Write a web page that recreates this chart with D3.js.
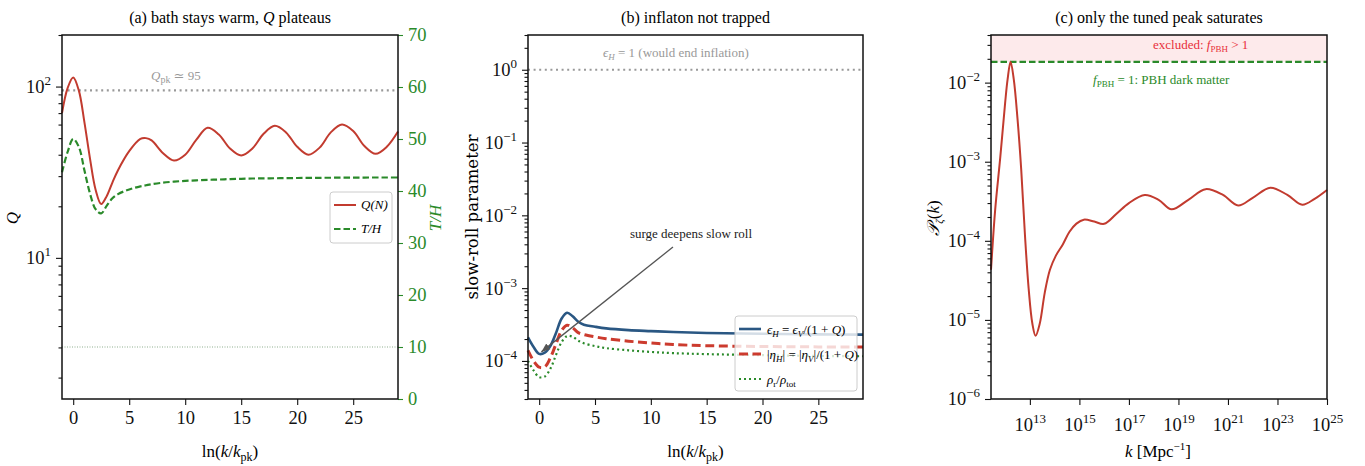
<!DOCTYPE html>
<html>
<head>
<meta charset="utf-8">
<script src="https://cdn.jsdelivr.net/npm/d3@7"></script>
<style>
  body { margin: 0; background: #fff; }
  svg text { font-family: "Liberation Serif", "DejaVu Serif", serif; }
</style>
</head>
<body>
<svg id="fig" width="1365" height="466"></svg>
<script>
// ---- data ----
// panel (a): Q(N) and T/H against ln(k/k_pk)
var aN   = [-1, -0.5, 0, 0.5, 1, 1.5, 2, 2.5, 3, 3.5, 4, 5, 6, 6.5, 7, 8, 9, 10, 11, 12, 13, 14, 15, 16, 17, 18, 19, 20, 21, 22, 23, 24, 25, 26, 27, 28, 29];
var aQ   = [70, 98, 113, 95, 62, 38, 25, 20.6, 23, 27.5, 32.5, 42, 49.5, 50, 48.5, 41, 37, 40, 49, 57.5, 52.5, 43.5, 39.6, 43.5, 53, 59, 54, 44.5, 40, 44, 54, 60, 55, 45, 40.5, 44.5, 54.6];
var aTH  = [43.6, 47.5, 50, 48.5, 44, 39.5, 36.5, 35.7, 37.2, 38.6, 39.4, 40.3, 40.9, 41.1, 41.3, 41.6, 41.8, 41.95, 42.05, 42.15, 42.2, 42.3, 42.35, 42.4, 42.42, 42.45, 42.48, 42.5, 42.52, 42.54, 42.55, 42.57, 42.58, 42.59, 42.6, 42.6, 42.6];
var Qpk = 95, THref = 10;
var aTicksX = [0, 5, 10, 15, 20, 25];
var aTicksR = [0, 10, 20, 30, 40, 50, 60, 70];

// panel (b): slow-roll parameters
var bN   = [-1, -0.5, 0, 0.5, 1, 1.5, 2, 2.5, 3, 3.5, 4, 5, 6, 8, 10, 12, 15, 20, 25, 29];
var bEps = [2.1e-4, 1.55e-4, 1.25e-4, 1.3e-4, 1.6e-4, 2.4e-4, 3.8e-4, 4.6e-4, 4.1e-4, 3.45e-4, 3.15e-4, 2.95e-4, 2.8e-4, 2.65e-4, 2.57e-4, 2.5e-4, 2.42e-4, 2.36e-4, 2.32e-4, 2.3e-4];
var bEta = [1.4e-4, 1.0e-4, 8.2e-5, 8.3e-5, 1.1e-4, 1.7e-4, 2.6e-4, 3.1e-4, 2.85e-4, 2.45e-4, 2.3e-4, 2.14e-4, 2.02e-4, 1.87e-4, 1.76e-4, 1.68e-4, 1.62e-4, 1.58e-4, 1.56e-4, 1.56e-4];
var bRho = [1.0e-4, 7.4e-5, 6.0e-5, 6.1e-5, 7.8e-5, 1.2e-4, 1.8e-4, 2.2e-4, 2.15e-4, 1.9e-4, 1.75e-4, 1.6e-4, 1.5e-4, 1.4e-4, 1.33e-4, 1.28e-4, 1.24e-4, 1.2e-4, 1.17e-4, 1.16e-4];
var bExp = [0, -1, -2, -3, -4];
var annTarget = [0.2, 1.25e-4];

// panel (c): P_zeta(k), k in Mpc^-1 (log10 k)
var cLogK = [11.43, 11.6, 11.8, 12.0, 12.1, 12.22, 12.35, 12.5, 12.65, 12.8, 12.95, 13.1, 13.23, 13.4, 13.6, 13.81, 14.05, 14.33, 14.6, 14.88, 15.18, 15.6, 16.0, 16.5, 17.0, 17.64, 18.2, 18.72, 19.4, 20.1, 20.8, 21.41, 22.0, 22.71, 23.4, 24.0, 24.5, 25.0];
var cP    = [4.3e-5, 2.5e-4, 1.1e-3, 5.5e-3, 1.1e-2, 1.83e-2, 1.1e-2, 3.5e-3, 8e-4, 1.2e-4, 2.5e-5, 9e-6, 6.3e-6, 9e-6, 2.2e-5, 4.3e-5, 6.5e-5, 9e-5, 1.3e-4, 1.65e-4, 1.85e-4, 1.75e-4, 1.64e-4, 2.2e-4, 3.0e-4, 3.8e-4, 3.3e-4, 2.5e-4, 3.3e-4, 4.5e-4, 3.8e-4, 2.8e-4, 3.5e-4, 4.7e-4, 3.8e-4, 2.86e-4, 3.4e-4, 4.4e-4];
var fPBH1 = 1.83e-2;
var cExpY = [-6, -5, -4, -3, -2];
var cExpX = [13, 15, 17, 19, 21, 23, 25];

var red = "#c23b2f", green = "#2a8a2a", blue = "#2a5783", grey = "#999";

var svg = d3.select("#fig");

function box(p) {
    return svg.append("rect").attr("x", p.x0).attr("y", p.y0)
        .attr("width", p.x1 - p.x0).attr("height", p.y1 - p.y0)
        .attr("fill", "none").attr("stroke", "#111").attr("stroke-width", 1.5);
}

function pow10(sel, e) {
    sel.text(null);
    sel.append("tspan").text("10");
    sel.append("tspan").attr("dy", -8).attr("font-size", 13).text(String(e).replace("-", "\u2212"));
}

function minorLog(lo, hi) {
    var out = [];
    for (var e = Math.floor(Math.log10(lo)); e <= Math.ceil(Math.log10(hi)); e++)
        for (var m = 2; m <= 9; m++) {
            var v = m * Math.pow(10, e);
            if (v >= lo && v <= hi) out.push(v);
        }
    return out;
}

function styleAxis(g, col) {
    g.select(".domain").remove();
    g.selectAll("line").attr("stroke", col || "#111").attr("stroke-width", 1.1);
    g.selectAll("text").attr("font-size", 18.5).attr("fill", col || "#111");
}

// ---------------- panel (a) ----------------
var A = {x0: 62, x1: 398, y0: 35, y1: 399};
var ax = d3.scaleLinear().domain([-1, 29]).range([A.x0, A.x1]);
var ay = d3.scaleLog().domain([1.5, 200]).range([A.y1, A.y0]);
var ay2 = d3.scaleLinear().domain([0, 70]).range([A.y1, A.y0]);

svg.append("line").attr("x1", A.x0).attr("x2", A.x1).attr("y1", ay(Qpk)).attr("y2", ay(Qpk))
    .attr("stroke", grey).attr("stroke-width", 2.2).attr("stroke-dasharray", "2,3.6");
svg.append("line").attr("x1", A.x0).attr("x2", A.x1).attr("y1", ay2(THref)).attr("y2", ay2(THref))
    .attr("stroke", "#8fae8f").attr("stroke-width", 1).attr("stroke-dasharray", "1,1.5");
svg.append("text").attr("x", 151).attr("y", 80).attr("font-size", 13).attr("fill", grey)
    .html('<tspan font-style="italic">Q</tspan><tspan font-size="10" dy="3">pk</tspan><tspan dy="-3"> \u2243 95</tspan>');

var aData = aN.map(function(n, i) { return {n: n, q: aQ[i], th: aTH[i]}; });
svg.append("path").attr("d", d3.line().curve(d3.curveCatmullRom)
        .x(function(d) { return ax(d.n); }).y(function(d) { return ay(d.q); })(aData))
    .attr("fill", "none").attr("stroke", red).attr("stroke-width", 2);
svg.append("path").attr("d", d3.line().curve(d3.curveCatmullRom)
        .x(function(d) { return ax(d.n); }).y(function(d) { return ay2(d.th); })(aData))
    .attr("fill", "none").attr("stroke", green).attr("stroke-width", 2.2).attr("stroke-dasharray", "6.5,3");

var g = svg.append("g").attr("transform", "translate(0," + A.y1 + ")")
    .call(d3.axisBottom(ax).tickValues(aTicksX).tickSize(6).tickPadding(6));
styleAxis(g);
g = svg.append("g").attr("transform", "translate(" + A.x0 + ",0)")
    .call(d3.axisLeft(ay).tickValues([10, 100]).tickSize(6).tickPadding(5));
styleAxis(g);
g.selectAll(".tick text").each(function(d) { pow10(d3.select(this), Math.round(Math.log10(d))); });
g = svg.append("g").attr("transform", "translate(" + A.x0 + ",0)")
    .call(d3.axisLeft(ay).tickValues(minorLog(1.5, 200)).tickSize(3.5).tickFormat(""));
styleAxis(g);
g = svg.append("g").attr("transform", "translate(" + A.x1 + ",0)")
    .call(d3.axisRight(ay2).tickValues(aTicksR).tickSize(5).tickPadding(5));
styleAxis(g, green);
box(A);

// legend (a)
var la = svg.append("g").attr("transform", "translate(330,192)");
la.append("rect").attr("width", 62).attr("height", 51).attr("rx", 3)
    .attr("fill", "#fff").attr("fill-opacity", 0.8).attr("stroke", "#ccc");
la.append("line").attr("x1", 4).attr("x2", 26).attr("y1", 13).attr("y2", 13).attr("stroke", red).attr("stroke-width", 2);
la.append("line").attr("x1", 4).attr("x2", 26).attr("y1", 37).attr("y2", 37).attr("stroke", green).attr("stroke-width", 2.2).attr("stroke-dasharray", "6.5,3");
la.append("text").attr("x", 31).attr("y", 17).attr("font-size", 13).attr("font-style", "italic").text("Q(N)");
la.append("text").attr("x", 31).attr("y", 41).attr("font-size", 13).attr("font-style", "italic").text("T/H");

svg.append("text").attr("x", (A.x0 + A.x1) / 2).attr("y", 23).attr("text-anchor", "middle").attr("font-size", 16)
    .html('(a) bath stays warm, <tspan font-style="italic">Q</tspan> plateaus');
svg.append("text").attr("x", (A.x0 + A.x1) / 2).attr("y", 457).attr("text-anchor", "middle").attr("font-size", 17)
    .html('ln(<tspan font-style="italic">k</tspan>/<tspan font-style="italic">k</tspan><tspan font-size="12" dy="4">pk</tspan><tspan dy="-4">)</tspan>');
svg.append("text").attr("transform", "translate(18,218) rotate(-90)").attr("text-anchor", "middle")
    .attr("font-size", 17).attr("font-style", "italic").text("Q");
svg.append("text").attr("transform", "translate(441,218) rotate(-90)").attr("text-anchor", "middle")
    .attr("font-size", 17).attr("font-style", "italic").attr("fill", green).text("T/H");

// ---------------- panel (b) ----------------
var B = {x0: 528, x1: 863, y0: 35, y1: 399};
var bx = d3.scaleLinear().domain([-1, 29]).range([B.x0, B.x1]);
var by = d3.scaleLog().domain([3e-5, 3]).range([B.y1, B.y0]);

svg.append("line").attr("x1", B.x0).attr("x2", B.x1).attr("y1", by(1)).attr("y2", by(1))
    .attr("stroke", grey).attr("stroke-width", 2.2).attr("stroke-dasharray", "2,3.6");
svg.append("text").attr("x", 603).attr("y", 57).attr("font-size", 13).attr("fill", grey)
    .html('<tspan font-style="italic">\u03f5</tspan><tspan font-size="9" font-style="italic" dy="3">H</tspan><tspan dy="-3"> = 1 (would end inflation)</tspan>');

var bSeries = [
    {v: bEps, col: blue, w: 2.6, dash: null},
    {v: bEta, col: "#cc3b2e", w: 3, dash: "9,4.5"},
    {v: bRho, col: green, w: 2.2, dash: "2,3"}
];
bSeries.forEach(function(s) {
    svg.append("path").attr("d", d3.line().curve(d3.curveCatmullRom)
            .x(function(d, i) { return bx(bN[i]); }).y(function(d) { return by(d); })(s.v))
        .attr("fill", "none").attr("stroke", s.col).attr("stroke-width", s.w)
        .attr("stroke-dasharray", s.dash);
});

g = svg.append("g").attr("transform", "translate(0," + B.y1 + ")")
    .call(d3.axisBottom(bx).tickValues(aTicksX).tickSize(6).tickPadding(6));
styleAxis(g);
g = svg.append("g").attr("transform", "translate(" + B.x0 + ",0)")
    .call(d3.axisLeft(by).tickValues(bExp.map(function(e) { return Math.pow(10, e); })).tickSize(6).tickPadding(5));
styleAxis(g);
g.selectAll(".tick text").each(function(d) { pow10(d3.select(this), Math.round(Math.log10(d))); });
g = svg.append("g").attr("transform", "translate(" + B.x0 + ",0)")
    .call(d3.axisLeft(by).tickValues(minorLog(3e-5, 3)).tickSize(3.5).tickFormat(""));
styleAxis(g);

// annotation arrow
svg.append("defs").append("marker").attr("id", "arr").attr("viewBox", "0 0 10 10")
    .attr("refX", 10).attr("refY", 5).attr("markerWidth", 9).attr("markerHeight", 9).attr("orient", "auto")
    .attr("markerUnits", "userSpaceOnUse")
    .append("path").attr("d", "M0,1 L10,5 L0,9 z").attr("fill", "#555");
svg.append("line").attr("x1", 673).attr("y1", 247)
    .attr("x2", bx(annTarget[0])).attr("y2", by(annTarget[1]) - 2)
    .attr("stroke", "#555").attr("stroke-width", 1.3).attr("marker-end", "url(#arr)");
svg.append("text").attr("x", 691).attr("y", 238).attr("text-anchor", "middle").attr("font-size", 13)
    .attr("fill", "#222").text("surge deepens slow roll");

// legend (b)
var lb = svg.append("g").attr("transform", "translate(735,316)");
lb.append("rect").attr("width", 122).attr("height", 75).attr("rx", 3)
    .attr("fill", "#fff").attr("fill-opacity", 0.8).attr("stroke", "#ccc");
bSeries.forEach(function(s, i) {
    lb.append("line").attr("x1", 4).attr("x2", 26).attr("y1", 13 + i * 25).attr("y2", 13 + i * 25)
        .attr("stroke", s.col).attr("stroke-width", s.w).attr("stroke-dasharray", s.dash);
});
lb.append("text").attr("x", 32).attr("y", 18).attr("font-size", 13)
    .html('<tspan font-style="italic">\u03f5</tspan><tspan font-size="9" font-style="italic" dy="3">H</tspan><tspan dy="-3"> = </tspan><tspan font-style="italic">\u03f5</tspan><tspan font-size="9" font-style="italic" dy="3">V</tspan><tspan dy="-3">/(1 + </tspan><tspan font-style="italic">Q</tspan>)');
lb.append("text").attr("x", 32).attr("y", 43).attr("font-size", 13)
    .html('|<tspan font-style="italic">\u03b7</tspan><tspan font-size="9" font-style="italic" dy="3">H</tspan><tspan dy="-3">| = |</tspan><tspan font-style="italic">\u03b7</tspan><tspan font-size="9" font-style="italic" dy="3">V</tspan><tspan dy="-3">|/(1 + </tspan><tspan font-style="italic">Q</tspan>)');
lb.append("text").attr("x", 32).attr("y", 68).attr("font-size", 13)
    .html('<tspan font-style="italic">\u03c1</tspan><tspan font-size="9" dy="3">r</tspan><tspan dy="-3">/</tspan><tspan font-style="italic">\u03c1</tspan><tspan font-size="9" dy="3">tot</tspan>');

box(B);
svg.append("text").attr("x", (B.x0 + B.x1) / 2).attr("y", 23).attr("text-anchor", "middle").attr("font-size", 16)
    .text("(b) inflaton not trapped");
svg.append("text").attr("x", (B.x0 + B.x1) / 2).attr("y", 457).attr("text-anchor", "middle").attr("font-size", 17)
    .html('ln(<tspan font-style="italic">k</tspan>/<tspan font-style="italic">k</tspan><tspan font-size="12" dy="4">pk</tspan><tspan dy="-4">)</tspan>');
svg.append("text").attr("transform", "translate(478,217) rotate(-90)").attr("text-anchor", "middle")
    .attr("font-size", 16.5).style("font-family", "'DejaVu Serif', serif").text("slow-roll parameter");

// ---------------- panel (c) ----------------
var C = {x0: 991, x1: 1327, y0: 35, y1: 399};
var cx = d3.scaleLog().domain([Math.pow(10, 11.43), 1e25]).range([C.x0, C.x1]);
var cy = d3.scaleLog().domain([1e-6, 4e-2]).range([C.y1, C.y0]);

svg.append("rect").attr("x", C.x0).attr("y", C.y0).attr("width", C.x1 - C.x0).attr("height", cy(fPBH1) - C.y0)
    .attr("fill", "#e8303a").attr("fill-opacity", 0.1);
svg.append("line").attr("x1", C.x0).attr("x2", C.x1).attr("y1", cy(fPBH1)).attr("y2", cy(fPBH1))
    .attr("stroke", green).attr("stroke-width", 2.2).attr("stroke-dasharray", "6.5,3");
svg.append("path").attr("d", d3.line().curve(d3.curveCatmullRom)
        .x(function(d, i) { return cx(Math.pow(10, cLogK[i])); }).y(function(d) { return cy(d); })(cP))
    .attr("fill", "none").attr("stroke", red).attr("stroke-width", 2);
svg.append("text").attr("x", 1153).attr("y", 49).attr("font-size", 13).attr("fill", "#e8303a")
    .html('excluded: <tspan font-style="italic">f</tspan><tspan font-size="9" dy="3">PBH</tspan><tspan dy="-3"> &gt; 1</tspan>');
svg.append("text").attr("x", 1093).attr("y", 84).attr("font-size", 13).attr("fill", green)
    .html('<tspan font-style="italic">f</tspan><tspan font-size="9" dy="3">PBH</tspan><tspan dy="-3"> = 1: PBH dark matter</tspan>');

g = svg.append("g").attr("transform", "translate(0," + C.y1 + ")")
    .call(d3.axisBottom(cx).tickValues(cExpX.map(function(e) { return Math.pow(10, e); })).tickSize(6).tickPadding(6));
styleAxis(g);
g.selectAll(".tick text").each(function(d) { pow10(d3.select(this), Math.round(Math.log10(d))); });
g.selectAll(".tick text").attr("dy", "1.1em");
g = svg.append("g").attr("transform", "translate(" + C.x0 + ",0)")
    .call(d3.axisLeft(cy).tickValues(cExpY.map(function(e) { return Math.pow(10, e); })).tickSize(6).tickPadding(5));
styleAxis(g);
g.selectAll(".tick text").each(function(d) { pow10(d3.select(this), Math.round(Math.log10(d))); });
g = svg.append("g").attr("transform", "translate(" + C.x0 + ",0)")
    .call(d3.axisLeft(cy).tickValues(minorLog(1e-6, 4e-2)).tickSize(3.5).tickFormat(""));
styleAxis(g);
box(C);

svg.append("text").attr("x", (C.x0 + C.x1) / 2).attr("y", 23).attr("text-anchor", "middle").attr("font-size", 16)
    .text("(c) only the tuned peak saturates");
svg.append("text").attr("x", 1158).attr("y", 457).attr("text-anchor", "middle").attr("font-size", 17)
    .html('<tspan font-style="italic">k</tspan> [Mpc<tspan font-size="11" dy="-7">\u22121</tspan><tspan dy="7">]</tspan>');
svg.append("text").attr("transform", "translate(939,218) rotate(-90)").attr("text-anchor", "middle")
    .attr("font-size", 17)
    .html('<tspan font-style="italic">\ud835\udcab</tspan><tspan font-size="11" font-style="italic" dy="4">\u03b6</tspan><tspan dy="-4">(</tspan><tspan font-style="italic">k</tspan>)');
</script>
</body>
</html>
